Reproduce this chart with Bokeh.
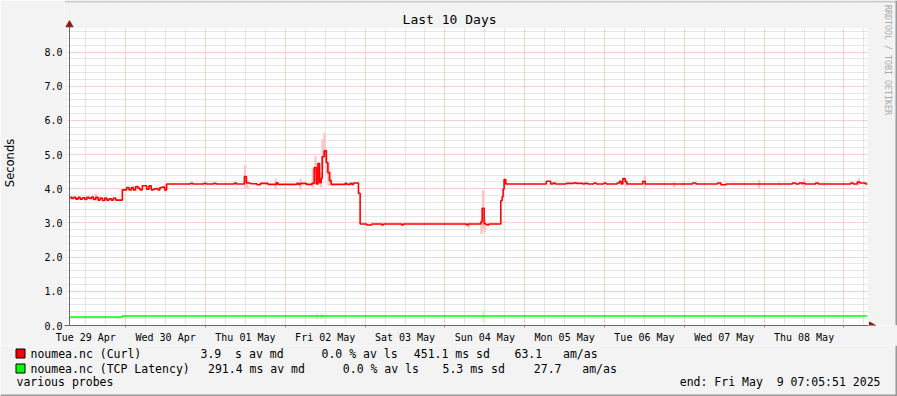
import math
import re
from bokeh.plotting import figure
from bokeh.layouts import column
from bokeh.models import Range1d, FixedTicker, PrintfTickFormatter
from bokeh.core.properties import value
from bokeh.embed import file_html
from bokeh.resources import INLINE

# ---------------- data ----------------
# time axis: hours since Tue 29 Apr 00:00; window = Apr 29 07:05:51 .. May 9 07:05:51
T_START = 7 + 5 / 60 + 51 / 3600
SPAN_H = 240.0
Y_PLOT_TOP = 8.7

day_labels = ["Tue 29 Apr", "Wed 30 Apr", "Thu 01 May", "Fri 02 May", "Sat 03 May",
              "Sun 04 May", "Mon 05 May", "Tue 06 May", "Wed 07 May", "Thu 08 May"]
label_hours = [12 + 24 * i for i in range(len(day_labels))]
day_bounds = [24 * i for i in range(1, 11)]
six_hours = [6 * i for i in range(1, 42) if i % 4 != 0]
y_major = [0, 1, 2, 3, 4, 5, 6, 7, 8]
y_minor = [round(0.2 * k, 1) for k in range(1, 44) if k % 5 != 0]
y_label_fmt = "%.1f"

# Curl median (hours since window start, seconds)
curl_t = [0.0, 0.6, 1.2, 1.9, 2.6, 3.2, 3.9, 4.6, 5.2, 5.9, 6.6, 7.2, 7.9, 8.6, 9.2, 9.9,
          10.6, 11.2, 11.9, 12.6, 13.2, 13.9, 15.9, 17.2, 17.9, 18.6, 19.2, 19.9, 20.6, 21.2,
          21.9, 23.2, 23.9, 24.6, 25.2, 25.9, 26.6, 27.2, 27.9, 28.6, 29.2, 36.4, 37.1, 40.4,
          41.1, 43.4, 44.1, 49.6, 50.2, 52.6, 53.2, 54.4, 56.4, 57.4, 59.7, 62.2, 62.7, 68.4,
          68.9, 69.4, 71.2, 72.9, 73.6, 74.2, 74.7, 75.2, 75.7, 76.0, 76.6, 77.2, 77.7, 78.2,
          78.7, 82.9, 83.4, 84.4, 84.9, 85.4, 86.9, 87.4, 89.4, 90.9, 93.9, 94.4, 99.9, 100.4,
          119.4, 119.9, 123.7, 124.1, 124.7, 125.2, 125.6, 126.1, 129.7, 130.1, 130.4, 130.7,
          131.2, 143.4, 144.7, 145.4, 146.1, 149.4, 151.9, 152.4, 154.4, 154.9, 155.9, 157.7,
          158.4, 160.7, 161.4, 164.7, 165.4, 165.9, 166.4, 167.1, 167.6, 172.4, 173.1, 187.4,
          188.4, 194.9, 195.9, 197.4, 217.4, 218.4, 219.4, 220.2, 220.4, 221.2, 224.4, 225.2,
          234.9, 235.7, 236.9, 237.7, 239.4, 240.0]
curl_v = [3.75, 3.72, 3.75, 3.70, 3.75, 3.70, 3.74, 3.69, 3.75, 3.72, 3.76, 3.69, 3.75, 3.67,
          3.73, 3.66, 3.73, 3.67, 3.71, 3.67, 3.73, 3.67, 3.97, 4.04, 3.97, 4.04, 3.97, 4.07,
          4.02, 3.97, 4.09, 3.99, 4.09, 3.97, 3.99, 4.01, 3.97, 4.04, 4.05, 3.97, 4.14, 4.16,
          4.14, 4.16, 4.14, 4.16, 4.14, 4.17, 4.14, 4.36, 4.17, 4.15, 4.12, 4.16, 4.13, 4.18,
          4.13, 4.16, 4.13, 4.16, 4.13, 4.16, 4.62, 4.14, 4.74, 4.18, 4.31, 4.94, 5.11, 4.77,
          4.48, 4.24, 4.13, 4.16, 4.13, 4.16, 4.13, 4.17, 3.87, 2.97, 2.94, 2.97, 2.94, 2.97,
          2.94, 2.97, 2.94, 2.97, 3.03, 3.43, 2.98, 2.96, 2.94, 2.97, 3.65, 3.77, 3.99, 4.27,
          4.14, 4.22, 4.14, 4.17, 4.14, 4.16, 4.18, 4.16, 4.14, 4.16, 4.14, 4.17, 4.14, 4.17,
          4.14, 4.17, 4.22, 4.14, 4.30, 4.21, 4.14, 4.22, 4.14, 4.17, 4.14, 4.17, 4.12, 4.14,
          4.17, 4.14, 4.17, 4.14, 4.17, 4.14, 4.17, 4.14, 4.17, 4.14, 4.20, 4.17, 4.14, 4.14]

# Curl spread ("smoke")
smoke_t = [7.9, 28.9, 52.8, 53.5, 62.0, 69.5, 73.2, 74.0, 74.9, 75.6, 76.1, 76.7, 77.3, 77.9,
           78.5, 120.1, 123.9, 124.4, 124.9, 130.8, 167.4, 173.0, 181.9, 184.4, 207.4, 213.4,
           220.9, 237.4]
smoke_lo = [3.70, 3.90, 4.01, 4.01, 3.99, 3.97, 4.04, 4.43, 4.19, 4.04, 4.58, 4.97, 4.43, 4.09,
            4.09, 2.85, 2.68, 2.78, 2.73, 4.09, 4.07, 4.04, 4.04, 4.10, 4.01, 4.10, 4.04, 4.09]
smoke_hi = [3.85, 4.14, 4.69, 4.24, 4.30, 4.30, 4.62, 4.95, 4.77, 4.48, 5.45, 5.64, 5.16, 4.77,
            4.48, 3.02, 3.12, 3.95, 3.12, 4.30, 4.26, 4.38, 4.21, 4.19, 4.26, 4.19, 4.30, 4.30]

# TCP latency median (hours since window start, seconds)
tcp_t = [0.0, 15.9, 240.0]
tcp_v = [0.25, 0.28, 0.28]
tcp_smoke_t = [52.8, 72.9, 74.4, 75.9, 77.4, 124.5, 172.8, 232.5]
tcp_smoke_lo = [0.25, 0.24, 0.22, 0.22, 0.24, 0.10, 0.25, 0.25]
tcp_smoke_hi = [0.33, 0.32, 0.36, 0.36, 0.32, 0.46, 0.32, 0.32]

series_names = ["noumea.nc (Curl)", "noumea.nc (TCP Latency)"]
series_colors = ["#ff0000", "#00ff00"]
stats_curl = ["3.9  s av md", "0.0 % av ls", "451.1 ms sd", "63.1   am/as"]
stats_tcp = ["291.4 ms av md", "0.0 % av ls", "5.3 ms sd", "27.7   am/as"]
footer_left = "various probes"
footer_right = "end: Fri May  9 07:05:51 2025"
title_text = "Last 10 Days"
y_title = "Seconds"
watermark = "RRDTOOL / TOBI OETIKER"

# ---------------- layout constants (window pixels) ----------------
W, H_CHART, H_LEG = 897, 345, 51
AX_X, AX_Y = 67, 328          # y-axis x position, x-axis y position
FRAME_L = 62                  # frame left edge
PX_PER_H = 800.0 / SPAN_H
PX_PER_V = 300.0 / Y_PLOT_TOP

X0 = T_START


def hx(wx):
    return X0 + (wx - AX_X) / PX_PER_H


def vy(wy):
    return (AX_Y - wy) / PX_PER_V


def keep_spaces(s):
    # keep runs of spaces visible in SVG text (monospace alignment)
    return re.sub(r" {2,}", lambda m: " " + "\u00a0" * (len(m.group()) - 1), s)


MONO = "DejaVu Sans Mono"
BG = "#f3f3f3"
AXIS_C = "#6a6a6a"
ARROW_C = "#8b1a1a"
MAJ_GRID = "#f3a0a0"
MIN_GRID = "#cdcdcd"

p = figure(width=W, height=H_CHART, output_backend="svg", toolbar_location=None, title=None,
           x_range=Range1d(hx(FRAME_L), hx(W)), y_range=Range1d(0, vy(0)),
           min_border_left=FRAME_L, min_border_right=0, min_border_top=0,
           min_border_bottom=H_CHART - AX_Y,
           border_fill_color=BG, background_fill_color="#ffffff", outline_line_color=None)
p.frame_align = False

# x axis
p.xaxis.ticker = FixedTicker(ticks=label_hours, minor_ticks=day_bounds)
p.xaxis.major_label_overrides = {h: t for h, t in zip(label_hours, day_labels)}
p.xaxis.major_tick_line_color = None
p.xaxis.major_tick_out = 0
p.xaxis.major_tick_in = 0
p.xaxis.minor_tick_line_color = "#ff6060"
p.xaxis.minor_tick_in = 0
p.xaxis.minor_tick_out = 2
p.xaxis.axis_line_color = AXIS_C
p.xaxis.bounds = (hx(FRAME_L), hx(868))
p.xaxis.major_label_text_font = MONO
p.xaxis.major_label_text_font_size = "10px"
p.xaxis.major_label_text_color = "#000000"
p.xaxis.major_label_standoff = 4
p.xgrid.ticker = FixedTicker(ticks=day_bounds, minor_ticks=six_hours)
p.xgrid.grid_line_color = MAJ_GRID
p.xgrid.grid_line_dash = "1 1"
p.xgrid.minor_grid_line_color = MIN_GRID
p.xgrid.minor_grid_line_dash = "1 1"

# y axis (line drawn separately at AX_X)
p.yaxis.ticker = FixedTicker(ticks=y_major, minor_ticks=y_minor)
p.yaxis.formatter = PrintfTickFormatter(format=y_label_fmt)
p.yaxis.major_tick_line_color = None
p.yaxis.minor_tick_line_color = None
p.yaxis.major_tick_in = 0
p.yaxis.major_tick_out = 0
p.yaxis.minor_tick_in = 0
p.yaxis.minor_tick_out = 0
p.yaxis.axis_line_color = None
p.yaxis.major_label_text_font = MONO
p.yaxis.major_label_text_font_size = "10px"
p.yaxis.major_label_text_color = "#000000"
p.yaxis.major_label_standoff = 2
p.yaxis.axis_label = y_title
p.yaxis.axis_label_text_font = "DejaVu Sans"
p.yaxis.axis_label_text_font_size = "11.5px"
p.yaxis.axis_label_text_font_style = "normal"
p.yaxis.axis_label_text_color = "#000000"
p.yaxis.axis_label_standoff = 24
p.ygrid.grid_line_color = MAJ_GRID
p.ygrid.grid_line_dash = "1 1"
p.ygrid.minor_grid_line_color = MIN_GRID
p.ygrid.minor_grid_line_dash = "1 1"

# smoke
p.vbar(x=[X0 + t for t in smoke_t], width=0.7, bottom=smoke_lo, top=smoke_hi,
       fill_color="#ffc4c4", line_color=None)
p.vbar(x=[X0 + t for t in tcp_smoke_t], width=0.7, bottom=tcp_smoke_lo, top=tcp_smoke_hi,
       fill_color="#c8ffc8", line_color=None)
# medians
p.step(x=[X0 + t for t in tcp_t], y=tcp_v, mode="after", line_color=series_colors[1],
       line_width=1.6)
p.step(x=[X0 + t for t in curl_t], y=curl_v, mode="after", line_color=series_colors[0],
       line_width=1.6)

# surround of the canvas area (covers grid outside the plotting area)
p.quad(left=[hx(FRAME_L), hx(FRAME_L), hx(867)], right=[hx(W), hx(65), hx(W)],
       bottom=[Y_PLOT_TOP, 0, 0], top=[vy(0), vy(0), vy(0)],
       fill_color=BG, line_color=None)
# 3d border (top light, right dark)
p.quad(left=[hx(FRAME_L), hx(W - 2)], right=[hx(W), hx(W)], bottom=[vy(2), 0],
       top=[vy(0), vy(0)], fill_color=["#cbcbcb", "#999999"], line_color=None)

# y axis line and arrows
p.segment(x0=[X0], y0=[0], x1=[X0], y1=[vy(25)], line_color=AXIS_C, line_width=1)
p.scatter(x=[X0], y=[vy(24.5)], marker="triangle", size=7, fill_color=ARROW_C,
          line_color=ARROW_C)
p.scatter(x=[hx(871)], y=[0], marker="triangle", angle=-math.pi / 2, size=7,
          fill_color=ARROW_C, line_color=ARROW_C)

# title and watermark
p.text(x=[hx(448)], y=[vy(19)], text=[title_text], text_font=value(MONO),
       text_font_size=value("13px"), text_align="center", text_baseline="middle",
       text_color="#000000")
p.text(x=[hx(887)], y=[vy(60)], text=[watermark], text_font=value(MONO),
       text_font_size=value("8.3px"), text_align="center", text_baseline="middle",
       text_color="#aaaaaa", angle=-math.pi / 2)

# ---------------- legend strip ----------------
lg = figure(width=W, height=H_LEG, output_backend="svg", toolbar_location=None, title=None,
            x_range=Range1d(0, W), y_range=Range1d(H_CHART + H_LEG, H_CHART),
            min_border=0, min_border_left=0, min_border_right=0, min_border_top=0,
            min_border_bottom=0, border_fill_color=BG, background_fill_color=BG,
            outline_line_color=None, x_axis_location=None, y_axis_location=None)
lg.frame_align = False
lg.grid.visible = False

row_y = [353, 368]
lg.quad(left=[15.5, 15.5], right=[24.5, 24.5], top=[y - 4.5 for y in row_y],
        bottom=[y + 4.5 for y in row_y], fill_color=series_colors, line_color="#000000",
        line_width=1)
texts = list(series_names) + stats_curl + stats_tcp + [footer_left]
xs = [30, 30] + [200, 321, 413.3, 514] + [207.5, 342.3, 442, 533.3] + [16]
ys = row_y + [row_y[0]] * 4 + [row_y[1]] * 4 + [381.5]
lg.text(x=xs, y=ys, text=[keep_spaces(t) for t in texts], text_font=value(MONO),
        text_font_size=value("11.5px"), text_align="left", text_baseline="middle",
        text_color="#000000")
lg.text(x=[880], y=[381.5], text=[keep_spaces(footer_right)], text_font=value(MONO),
        text_font_size=value("11.5px"), text_align="right", text_baseline="middle",
        text_color="#000000")
# 3d border (right and bottom dark)
lg.quad(left=[W - 2, 0], right=[W, W], top=[H_CHART, H_CHART + H_LEG - 2],
        bottom=[H_CHART + H_LEG, H_CHART + H_LEG], fill_color="#999999", line_color=None)

layout = column(p, lg, spacing=0)
open("out.html", "w").write(file_html(layout, INLINE))
